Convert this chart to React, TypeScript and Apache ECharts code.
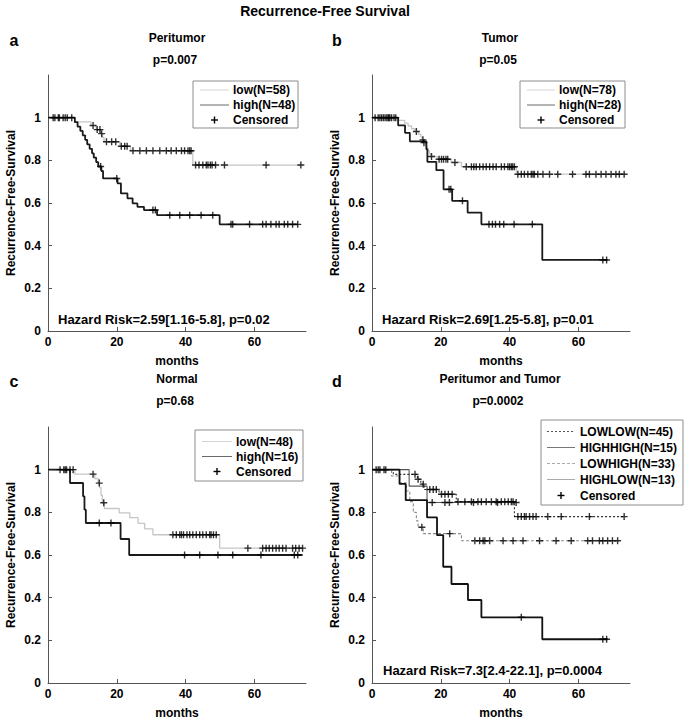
import React, { useEffect, useRef } from "react";
import * as echarts from "echarts";

const FONT = '"Liberation Sans", Arial, Helvetica, sans-serif';

// ---------- tick labels ----------
const xTicks = [0, 20, 40, 60];
const yTicks = [0, 0.2, 0.4, 0.6, 0.8, 1];

// ---------- Panel a : Peritumor ----------
const aLowT = [0, 7.8, 12.5, 14.0, 15.3, 15.9, 16.3, 20.9, 24.0, 42.1, 74];
const aLowS = [1, 0.98, 0.963, 0.944, 0.925, 0.906, 0.887, 0.866, 0.845, 0.778, 0.778];
const aLowCens = [2.0, 3.3, 4.4, 5.6, 6.9, 13.1, 14.3, 15.1, 15.6, 17.0, 18.5, 19.7, 21.3, 22.3, 23.0, 24.7, 26.7, 28.6, 30.5, 32.5, 34.4, 35.8, 37.3, 38.8, 39.7, 40.7, 41.2, 41.6, 42.9, 43.9, 45.0, 46.0, 46.5, 47.2, 47.7, 48.7, 51.3, 63.4, 73.5];
const aHighT = [0, 7.8, 8.6, 9.4, 10.1, 10.8, 11.4, 12.1, 12.8, 13.3, 14.0, 14.6, 15.5, 16.0, 20.2, 21.2, 23.1, 24.6, 26.0, 27.9, 31.7, 49.9, 72.6];
const aHighS = [1, 0.979, 0.958, 0.938, 0.917, 0.896, 0.875, 0.854, 0.833, 0.813, 0.792, 0.771, 0.75, 0.715, 0.692, 0.645, 0.622, 0.598, 0.582, 0.567, 0.543, 0.5, 0.5];
const aHighCens = [1.5, 3.0, 5.0, 15.3, 20.0, 30.5, 31.2, 35.4, 38.3, 41.2, 44.5, 47.9, 53.2, 53.7, 58.6, 62.4, 63.4, 64.8, 66.3, 67.2, 68.7, 69.7, 71.1, 72.6];

// ---------- Panel b : Tumor ----------
const bLowT = [0, 7.5, 9.5, 10.5, 11.5, 12.5, 13.5, 14.2, 14.6, 15.0, 15.6, 16.0, 16.3, 16.7, 17.0, 19.0, 23.0, 26.0, 42.0, 73.8];
const bLowS = [1, 0.987, 0.974, 0.961, 0.948, 0.935, 0.922, 0.909, 0.896, 0.883, 0.87, 0.857, 0.844, 0.831, 0.818, 0.805, 0.79, 0.77, 0.735, 0.735];
const bLowCens = [0.9, 1.8, 2.8, 3.3, 3.8, 4.3, 4.7, 5.2, 5.7, 6.4, 6.9, 12.9, 14.8, 15.1, 17.3, 19.5, 20.2, 20.8, 21.5, 22.0, 24.1, 27.4, 28.9, 29.6, 30.3, 31.3, 32.3, 33.2, 34.2, 35.2, 36.1, 37.6, 38.5, 39.5, 40.0, 40.5, 40.9, 41.4, 42.4, 43.4, 44.3, 45.3, 46.3, 46.8, 47.2, 48.2, 49.7, 51.6, 54.0, 58.3, 62.2, 63.2, 65.1, 66.6, 68.0, 69.5, 70.9, 71.9, 73.3];
const bHighT = [0, 7.6, 9.6, 11.0, 15.8, 16.1, 18.7, 20.8, 23.3, 27.8, 31.8, 49.5, 68.5];
const bHighS = [1, 0.964, 0.929, 0.889, 0.852, 0.793, 0.754, 0.664, 0.61, 0.555, 0.5, 0.333, 0.333];
const bHighCens = [2.3, 4.9, 22.4, 22.9, 26.3, 34.0, 35.0, 35.9, 37.1, 38.3, 41.3, 46.6, 67.1, 68.2];

// ---------- Panel c : Normal ----------
const cLowT = [0, 7.8, 13.6, 14.6, 15.0, 15.4, 15.8, 16.4, 20.7, 23.8, 26.2, 28.1, 30.5, 49.9, 74];
const cLowS = [1, 0.979, 0.958, 0.937, 0.916, 0.88, 0.845, 0.818, 0.797, 0.775, 0.748, 0.722, 0.695, 0.632, 0.632];
const cLowCens = [4.6, 5.4, 6.4, 7.3, 13.1, 14.9, 16.2, 36.3, 37.3, 38.3, 38.8, 39.4, 40.4, 41.2, 42.1, 43.1, 44.1, 45.0, 46.0, 47.0, 47.4, 48.1, 48.9, 58.1, 62.4, 63.4, 64.3, 65.3, 66.3, 67.2, 68.2, 69.2, 71.1, 72.0, 73.0, 74.0];
const cHighT = [0, 6.4, 10.2, 10.6, 11.0, 21.1, 23.6, 74];
const cHighS = [1, 0.9375, 0.875, 0.8125, 0.75, 0.675, 0.6, 0.6];
const cHighCens = [3.5, 5.0, 14.9, 18.3, 39.7, 44.1, 49.4, 53.7, 61.9, 71.6, 72.6];

// ---------- Panel d : Peritumor and Tumor ----------
const dLowLowT = [0, 6.2, 13.2, 14.2, 15.2, 19.5, 24.5, 41.4, 73.5];
const dLowLowS = [1, 0.978, 0.955, 0.932, 0.907, 0.885, 0.85, 0.78, 0.78];
const dLowLowCens = [1.2, 2.3, 3.5, 12.5, 13.4, 14.9, 16.8, 17.8, 18.7, 20.2, 21.2, 22.2, 23.3, 25.0, 27.0, 28.9, 30.8, 31.8, 33.2, 34.7, 36.1, 37.6, 38.6, 39.6, 40.5, 41.0, 42.4, 43.4, 44.3, 44.8, 45.8, 46.8, 47.7, 51.1, 55.0, 63.2, 73.3];
const dHighHighT = [0, 8.0, 9.8, 16.0, 18.9, 20.7, 23.1, 27.9, 31.8, 49.5, 68.5];
const dHighHighS = [1, 0.933, 0.857, 0.776, 0.693, 0.545, 0.464, 0.389, 0.308, 0.205, 0.205];
const dHighHighCens = [43.4, 67.1, 68.2];
const dLowHighT = [0, 5.7, 8.1, 10.0, 11.0, 12.0, 12.9, 13.4, 14.9, 26.0, 72.4];
const dLowHighS = [1, 0.97, 0.939, 0.9, 0.85, 0.8, 0.76, 0.73, 0.7, 0.667, 0.667];
const dLowHighCens = [1.8, 14.5, 22.6, 29.9, 31.3, 32.3, 32.8, 34.2, 38.1, 41.0, 43.9, 48.7, 53.5, 57.9, 62.7, 64.1, 66.1, 67.1, 68.5, 69.9, 71.4];
const dHighLowT = [0, 10.8, 16.0, 41.9];
const dHighLowS = [1, 0.923, 0.846, 0.846];
const dHighLowCens = [4.0, 17.5, 21.2, 22.5, 29.5, 36.5, 41.9];

// ---------- texts ----------
const mainTitle = "Recurrence-Free Survival";
const panelLetters = ["a", "b", "c", "d"];
const panelTitles = ["Peritumor", "Tumor", "Normal", "Peritumor and Tumor"];
const panelPvals = ["p=0.007", "p=0.05", "p=0.68", "p=0.0002"];
const hazardTexts = ["Hazard Risk=2.59[1.16-5.8], p=0.02", "Hazard Risk=2.69[1.25-5.8], p=0.01", "", "Hazard Risk=7.3[2.4-22.1], p=0.0004"];
const legendA = ["low(N=58)", "high(N=48)", "Censored"];
const legendB = ["low(N=78)", "high(N=28)", "Censored"];
const legendC = ["low(N=48)", "high(N=16)", "Censored"];
const legendD = ["LOWLOW(N=45)", "HIGHHIGH(N=15)", "LOWHIGH(N=33)", "HIGHLOW(N=13)", "Censored"];
const yName = "Recurrence-Free-Survival";
const xName = "months";

// ---------- layout ----------
const GRIDS = [
  { left: 48, top: 75 },
  { left: 372, top: 75 },
  { left: 48, top: 427 },
  { left: 372, top: 427 },
];
const GW = 258;
const GH = 256;

const PLUS = "path://M2.8,0H4.2V2.8H7V4.2H4.2V7H2.8V4.2H0V2.8H2.8Z";

function stepData(t: number[], s: number[]) {
  return t.map((x, i) => [x, s[i]]);
}
function survAt(t: number[], s: number[], x: number) {
  let v = s[0];
  for (let i = 0; i < t.length; i++) if (t[i] <= x) v = s[i];
  return v;
}

export default function App() {
  const ref = useRef<HTMLDivElement>(null);
  useEffect(() => {
    if (!ref.current) return;
    const chart = echarts.init(ref.current, null, { renderer: "svg" });

    const LOW = { color: "#c6c6c6", width: 1.3, type: "solid" as any };
    const HIGH = { color: "#1a1a1a", width: 1.8, type: "solid" as any };

    const curves: any[] = [
      { p: 0, t: aLowT, s: aLowS, c: aLowCens, ls: LOW, z: 2 },
      { p: 0, t: aHighT, s: aHighS, c: aHighCens, ls: HIGH, z: 3 },
      { p: 1, t: bLowT, s: bLowS, c: bLowCens, ls: LOW, z: 2 },
      { p: 1, t: bHighT, s: bHighS, c: bHighCens, ls: HIGH, z: 3 },
      { p: 2, t: cLowT, s: cLowS, c: cLowCens, ls: LOW, z: 2 },
      { p: 2, t: cHighT, s: cHighS, c: cHighCens, ls: HIGH, z: 3 },
      { p: 3, t: dLowLowT, s: dLowLowS, c: dLowLowCens, ls: { color: "#333", width: 1.1, type: [2, 2] }, z: 3 },
      { p: 3, t: dHighHighT, s: dHighHighS, c: dHighHighCens, ls: { color: "#111", width: 1.8, type: "solid" }, z: 4 },
      { p: 3, t: dLowHighT, s: dLowHighS, c: dLowHighCens, ls: { color: "#8a8a8a", width: 1.1, type: [3, 2] }, z: 2 },
      { p: 3, t: dHighLowT, s: dHighLowS, c: dHighLowCens, ls: { color: "#555", width: 1.1, type: "solid" }, z: 2 },
    ];

    const series: any[] = [];
    curves.forEach((cv) => {
      series.push({
        type: "line",
        step: "end",
        xAxisIndex: cv.p,
        yAxisIndex: cv.p,
        data: stepData(cv.t, cv.s),
        showSymbol: false,
        symbol: "none",
        lineStyle: cv.ls,
        z: cv.z,
        silent: true,
      });
      series.push({
        type: "scatter",
        xAxisIndex: cv.p,
        yAxisIndex: cv.p,
        data: cv.c.map((x: number) => [x, survAt(cv.t, cv.s, x)]),
        symbol: PLUS,
        symbolSize: 7,
        itemStyle: { color: "#000" },
        z: 5,
        silent: true,
      });
    });

    const axisText = { fontFamily: FONT, fontSize: 12, fontWeight: "bold" as any, color: "#000" };

    const grid = GRIDS.map((g) => ({ left: g.left, top: g.top, width: GW, height: GH, containLabel: false }));
    const xAxis = GRIDS.map((_, i) => ({
      type: "value",
      gridIndex: i,
      min: 0,
      max: 75,
      interval: 20,
      axisLine: { show: true, lineStyle: { color: "#555", width: 1 } },
      axisTick: { show: true, inside: true, length: 4, lineStyle: { color: "#555" }, customValues: xTicks },
      axisLabel: { ...axisText, margin: 5, customValues: xTicks },
      splitLine: { show: false },
    }));
    const yAxis = GRIDS.map((_, i) => ({
      type: "value",
      gridIndex: i,
      min: 0,
      max: 1.2,
      interval: 0.2,
      axisLine: { show: true, lineStyle: { color: "#555", width: 1 } },
      axisTick: { show: true, inside: true, length: 4, lineStyle: { color: "#555" }, customValues: yTicks },
      axisLabel: { ...axisText, margin: 7, customValues: yTicks },
      splitLine: { show: false },
    }));

    const txt = (text: string, x: number, y: number, size: number, align = "center", extra: any = {}) => ({
      type: "text",
      x,
      y,
      z: 120,
      silent: true,
      ...extra,
      style: {
        text,
        fill: "#000",
        fontFamily: FONT,
        fontSize: size,
        fontWeight: "bold",
        align,
        textAlign: align,
        verticalAlign: "middle",
        textVerticalAlign: "middle",
      },
    });

    const graphics: any[] = [];
    graphics.push(txt(mainTitle, 325, 11, 14));

    const letterPos = [
      [14, 40],
      [337, 40],
      [14, 381],
      [337, 381],
    ];
    const titlePos = [
      [177, 38, 60],
      [500, 38, 60],
      [177, 379, 401],
      [500, 379, 401],
    ];
    panelLetters.forEach((l, i) => graphics.push(txt(l, letterPos[i][0], letterPos[i][1], 16)));
    panelTitles.forEach((t, i) => graphics.push(txt(t, titlePos[i][0], titlePos[i][1], 12)));
    panelPvals.forEach((t, i) => graphics.push(txt(t, titlePos[i][0] - 2, titlePos[i][2], 12)));

    // axis names
    GRIDS.forEach((g) => {
      graphics.push(txt(yName, g.left - 37, g.top + 128, 12, "center", { rotation: Math.PI / 2 }));
      graphics.push(txt(xName, g.left + 129, g.top + GH + 30, 12));
    });

    // hazard texts
    const hazPos = [
      [58, 319],
      [382, 319],
      [0, 0],
      [383, 670],
    ];
    hazardTexts.forEach((h, i) => {
      if (h) graphics.push(txt(h, hazPos[i][0], hazPos[i][1], 13, "left"));
    });

    // legends
    const legend = (
      box: number[],
      labels: string[],
      styles: any[],
      rowY0: number,
      rowDy: number,
      lineX: number[],
      textX: number
    ) => {
      graphics.push({
        type: "rect",
        z: 110,
        silent: true,
        shape: { x: box[0], y: box[1], width: box[2], height: box[3] },
        style: { fill: "#fff", stroke: "#8c8c8c", lineWidth: 1 },
      });
      labels.forEach((lab, k) => {
        const y = rowY0 + k * rowDy;
        const st = styles[k];
        if (st) {
          graphics.push({
            type: "line",
            z: 115,
            silent: true,
            shape: { x1: lineX[0], y1: y, x2: lineX[1], y2: y },
            style: { stroke: st.color, lineWidth: 1, lineDash: st.dash || null },
          });
        } else {
          const cx = (lineX[0] + lineX[1]) / 2;
          graphics.push({
            type: "line",
            z: 115,
            silent: true,
            shape: { x1: cx - 3.5, y1: y, x2: cx + 3.5, y2: y },
            style: { stroke: "#000", lineWidth: 1.4 },
          });
          graphics.push({
            type: "line",
            z: 115,
            silent: true,
            shape: { x1: cx, y1: y - 3.5, x2: cx, y2: y + 3.5 },
            style: { stroke: "#000", lineWidth: 1.4 },
          });
        }
        graphics.push(txt(lab, textX, y, 12, "left"));
      });
    };
    const lowLeg = { color: "#d4d4d4" };
    const highLeg = { color: "#6a6a6a" };
    legend([193, 81, 105, 47], legendA, [lowLeg, highLeg, null], 90, 15, [200, 229], 233);
    legend([520, 81, 105, 47], legendB, [lowLeg, highLeg, null], 90, 15, [527, 555], 559);
    legend([195, 430, 108, 51], legendC, [lowLeg, highLeg, null], 441.5, 15, [202, 232], 236);
    legend(
      [541, 420, 142, 85],
      legendD,
      [
        { color: "#555", dash: [2, 2] },
        { color: "#777" },
        { color: "#aaa", dash: [3, 2] },
        { color: "#aaa" },
        null,
      ],
      431.5,
      16,
      [547, 575],
      580
    );

    chart.setOption({
      animation: false,
      backgroundColor: "#fff",
      grid,
      xAxis,
      yAxis,
      series,
      graphic: { elements: graphics },
    });
    return () => chart.dispose();
  }, []);

  return (
    <div
      ref={ref}
      style={{ position: "absolute", left: 0, top: 0, width: 685, height: 720, background: "#fff" }}
    />
  );
}
